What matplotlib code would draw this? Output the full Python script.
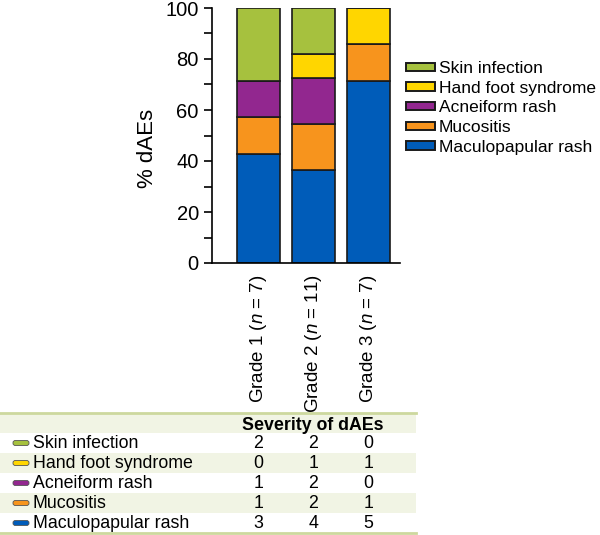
import matplotlib
matplotlib.use("Agg")
import matplotlib.pyplot as plt
import matplotlib.transforms as mtransforms
from matplotlib.patches import Patch, Rectangle, FancyBboxPatch
import numpy as np

plt.rcParams['font.family'] = ['Liberation Sans', 'DejaVu Sans']
plt.rcParams['mathtext.fontset'] = 'custom'
plt.rcParams['mathtext.it'] = 'Liberation Sans:italic'
plt.rcParams['mathtext.rm'] = 'Liberation Sans'

# data (counts per grade)
grades = ["Grade 1", "Grade 2", "Grade 3"]
n_per_grade = [7, 11, 7]
categories = ["Maculopapular rash", "Mucositis", "Acneiform rash",
              "Hand foot syndrome", "Skin infection"]
maculopapular = [3, 4, 5]
mucositis = [1, 2, 1]
acneiform = [1, 2, 0]
hand_foot = [0, 1, 1]
skin_infection = [2, 2, 0]
colors = ["#005cb9", "#f7941d", "#92278f", "#ffd600", "#a6c13e"]

counts = np.array([maculopapular, mucositis, acneiform, hand_foot, skin_infection], dtype=float)
pct = counts / np.array(n_per_grade) * 100

W, H = 600, 535
fig = plt.figure(figsize=(W / 100, H / 100), dpi=100)


def fx(px):
    return px / W


def fy(py):
    return 1 - py / H


ax = fig.add_axes([fx(212), fy(263), fx(400) - fx(212), fy(8) - fy(263)])
x = np.arange(len(grades))
bottom = np.zeros(len(grades))
for i, cat in enumerate(categories):
    ax.bar(x, pct[i], 0.78, bottom=bottom, color=colors[i],
           edgecolor="#1a1a1a", linewidth=1.2, label=cat, zorder=2)
    bottom += pct[i]

ax.set_xlim(-0.84, 2.58)
ax.set_ylim(0, 100)
ax.set_yticks(range(0, 101, 20))
ax.set_yticks(range(0, 101, 10), minor=True)
ax.tick_params(axis="y", labelsize=14.5, length=6, width=1.2, direction="out")
ax.tick_params(axis="y", which="minor", length=6, width=1.2)
ax.set_xticks(x)
ax.set_xticklabels([f"{g} ($n$ = {n})" for g, n in zip(grades, n_per_grade)],
                   rotation=90, fontsize=13.5, va="top", ha="center")
ax.tick_params(axis="x", length=0, pad=8)
for s in ["top", "right"]:
    ax.spines[s].set_visible(False)
ax.spines["left"].set_linewidth(1.2)
ax.spines["bottom"].set_linewidth(1.2)
ax.set_ylabel("% dAEs", fontsize=16)
ax.yaxis.set_label_coords((158 - 212) / 188, (263 - 148) / 255)

handles = [Patch(facecolor=colors[i], edgecolor="#1a1a1a", linewidth=1.4, label=categories[i])
           for i in range(len(categories) - 1, -1, -1)]
fig.legend(handles=handles, loc="upper left", bbox_to_anchor=(fx(406), fy(61)),
           frameon=False, fontsize=12.5, handlelength=1.65, handleheight=0.35,
           handletextpad=0.25, labelspacing=0.27, borderaxespad=0, borderpad=0)

# table below the chart
line_col = "#cdd89e"
shade = "#f1f4e4"
row_h = 20
top = 413
fig.patches.append(Rectangle((0, fy(top + row_h)), fx(416), row_h / H,
                             transform=fig.transFigure, facecolor=shade, edgecolor="none"))
table_rows = categories[::-1]
table_vals = counts[::-1]
table_cols = colors[::-1]
blend = mtransforms.blended_transform_factory(ax.transData, fig.transFigure)
fig.text(x[1], fy(top + row_h / 2 + 2), "Severity of dAEs", transform=blend,
         ha="center", va="center", fontsize=12.8, fontweight="bold")
for r, name in enumerate(table_rows):
    y0 = top + row_h * (r + 1)
    yc = fy(y0 + row_h / 2)
    if r % 2 == 1:
        fig.patches.append(Rectangle((0, fy(y0 + row_h)), fx(416), row_h / H,
                                     transform=fig.transFigure, facecolor=shade, edgecolor="none"))
    fig.patches.append(FancyBboxPatch((fx(13), yc - 2.5 / H), fx(16), 5 / H,
                                      boxstyle="round,pad=0,rounding_size=0.004",
                                      transform=fig.transFigure, facecolor=table_cols[r],
                                      edgecolor="#555555", linewidth=0.6))
    fig.text(fx(33), yc, name, ha="left", va="center", fontsize=12.8)
    for c in range(len(grades)):
        fig.text(x[c], yc, f"{int(table_vals[r][c])}", transform=blend,
                 ha="center", va="center", fontsize=12.8)
for yl in [top, top + row_h * 6]:
    fig.add_artist(plt.Line2D([0, fx(416)], [fy(yl), fy(yl)], transform=fig.transFigure,
                              color=line_col, linewidth=2))

fig.savefig("out.png", dpi=100)
